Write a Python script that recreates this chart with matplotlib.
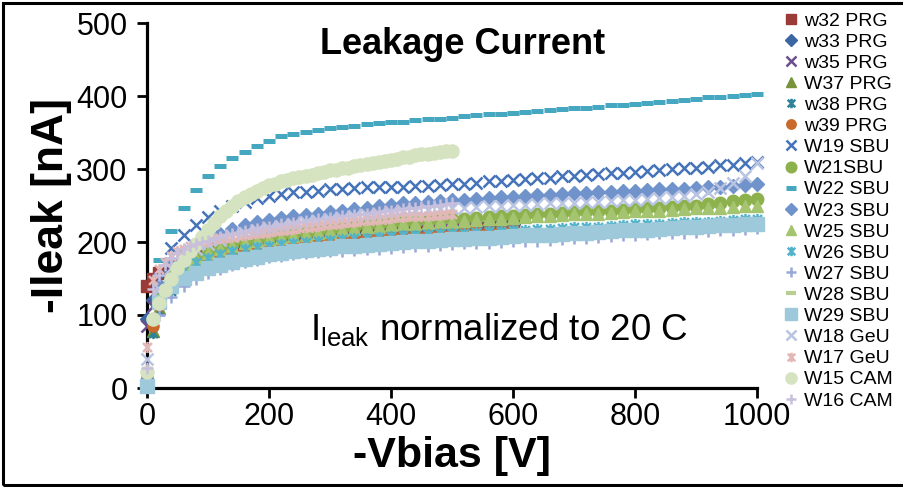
import matplotlib
matplotlib.use("Agg")
import matplotlib.pyplot as plt
from matplotlib.path import Path
from matplotlib.patches import Rectangle

plt.rcParams['font.family'] = ['Liberation Sans', 'DejaVu Sans']
plt.rcParams['mathtext.fontset'] = 'custom'
plt.rcParams['mathtext.rm'] = 'Liberation Sans'

# ---------------- data ----------------
V_prg = [0, 10, 20] + list(range(40, 601, 20))        # PRG sweeps up to 600 V
V_sbu = list(range(0, 1001, 20))                        # 20 V steps up to 1000 V
V_cam = list(range(0, 501, 10))                         # 10 V steps up to 500 V

w32_PRG = [140, 150, 158, 170, 180, 186, 190, 193, 195, 197, 199, 200, 202, 203, 204, 205,
           206, 207, 208, 209, 210, 211, 212, 213, 214, 215, 216, 217, 218, 218, 219, 220]
w33_PRG = [95, 120, 140, 160, 172, 180, 186, 190, 194, 197, 200, 202, 204, 206, 207, 208,
           209, 210, 211, 212, 213, 214, 215, 216, 217, 218, 219, 220, 221, 222, 223, 224]
w35_PRG = [85, 112, 135, 157, 170, 178, 184, 189, 193, 196, 199, 201, 203, 205, 206, 207,
           208, 209, 210, 211, 212, 213, 214, 215, 216, 217, 218, 219, 220, 221, 222, 223]
W37_PRG = [10, 78, 110, 138, 155, 166, 174, 180, 185, 189, 192, 195, 197, 199, 201, 202,
           203, 204, 205, 206, 207, 208, 209, 210, 211, 212, 213, 213, 214, 215, 215, 216]
w38_PRG = [8, 75, 105, 133, 150, 162, 170, 176, 181, 185, 188, 191, 193, 195, 197, 198,
           199, 200, 201, 202, 203, 204, 205, 206, 207, 208, 209, 210, 211, 211, 212, 213]
w39_PRG = [15, 85, 114, 140, 157, 168, 176, 182, 187, 191, 194, 197, 199, 201, 203, 204,
           205, 206, 207, 208, 209, 210, 211, 212, 213, 214, 214, 215, 216, 216, 217, 218]

W19_SBU = [5, 150, 192, 210, 223, 234, 242, 249, 255, 260, 263, 266, 268, 269, 270, 272, 273,
           274, 275, 275, 276, 276, 277, 277, 278, 279, 280, 281, 283, 284, 285, 286, 287, 288,
           290, 291, 292, 293, 294, 295, 296, 297, 299, 300, 301, 302, 303, 305, 306, 308, 310]
W21_SBU = [5, 122, 153, 169, 180, 188, 193, 197, 201, 204, 207, 209, 211, 213, 215, 217, 219,
           221, 223, 224, 226, 227, 228, 229, 230, 231, 232, 233, 234, 235, 236, 237, 238, 239,
           240, 241, 242, 242, 243, 244, 245, 246, 247, 248, 249, 250, 252, 254, 256, 258, 259]
W22_SBU = [10, 175, 215, 246, 271, 290, 304, 315, 323, 331, 338, 345, 348, 351, 354, 356, 357,
           359, 361, 363, 364, 365, 367, 368, 368, 370, 372, 374, 375, 376, 377, 378, 379, 381,
           382, 383, 384, 385, 387, 388, 389, 390, 392, 393, 395, 396, 398, 399, 400, 402, 403]
W23_SBU = [5, 140, 172, 186, 196, 204, 211, 218, 223, 227, 230, 233, 235, 237, 239, 241, 243,
           245, 247, 249, 251, 253, 254, 255, 256, 257, 258, 259, 260, 261, 262, 263, 264, 265,
           266, 267, 267, 268, 269, 270, 270, 271, 272, 273, 273, 274, 275, 276, 277, 278, 279]
W25_SBU = [5, 118, 150, 166, 177, 185, 190, 194, 198, 201, 204, 206, 208, 210, 212, 214, 216,
           218, 220, 221, 223, 224, 225, 226, 227, 228, 229, 230, 231, 232, 233, 234, 235, 236,
           237, 238, 239, 239, 240, 241, 242, 243, 243, 244, 245, 246, 246, 247, 248, 249, 250]
W26_SBU = [5, 115, 148, 163, 172, 178, 183, 187, 190, 193, 195, 197, 199, 200, 202, 203, 204,
           205, 206, 207, 208, 209, 210, 211, 212, 212, 213, 214, 215, 215, 216, 217, 218, 218,
           219, 220, 221, 221, 222, 223, 224, 224, 225, 226, 227, 227, 228, 229, 230, 231, 232]
W27_SBU = [5, 100, 125, 140, 150, 157, 163, 168, 172, 176, 179, 181, 183, 185, 186, 187, 188,
           189, 190, 191, 192, 193, 194, 195, 196, 197, 198, 198, 199, 200, 201, 202, 202, 203,
           204, 205, 206, 207, 208, 209, 210, 211, 212, 212, 213, 214, 215, 216, 217, 218, 219]
W28_SBU = [5, 110, 138, 152, 162, 169, 175, 179, 183, 186, 189, 191, 193, 195, 196, 198, 199,
           200, 201, 202, 203, 204, 205, 206, 207, 208, 209, 210, 210, 211, 212, 213, 214, 214,
           215, 216, 217, 218, 218, 219, 220, 221, 222, 222, 223, 224, 225, 226, 227, 228, 229]
W29_SBU = [3, 118, 140, 151, 158, 164, 169, 173, 177, 180, 183, 185, 187, 189, 191, 192, 194,
           195, 196, 197, 199, 200, 201, 202, 203, 204, 204, 205, 206, 207, 208, 209, 210, 210,
           211, 212, 213, 214, 215, 216, 217, 217, 218, 219, 220, 221, 222, 223, 223, 224, 225]
W18_GeU = [40, 135, 165, 180, 190, 197, 203, 208, 212, 216, 219, 222, 225, 227, 229, 231, 233,
           235, 237, 239, 241, 242, 243, 244, 245, 246, 247, 248, 249, 250, 251, 251, 252, 253,
           253, 254, 255, 255, 256, 257, 258, 259, 260, 261, 263, 266, 269, 274, 281, 291, 308]
W17_GeU = [56, 148, 163, 173, 181, 187, 191, 195, 198, 200, 202, 204, 205, 206, 207, 208, 210,
           211, 212, 213, 214, 215, 216, 217, 218, 219, 220, 221, 222, 223, 224, 225, 226, 227,
           228, 229, 230, 230, 231, 232, 233, 234, 234, 235, 235, 236, 236, 237, 237, 238, 238]
W15_CAM = [22, 95, 116, 134, 150, 164, 176, 187, 197, 207, 216, 226, 235, 243, 250, 256, 261,
           266, 270, 274, 278, 280, 283, 285, 287, 289, 291, 292, 294, 296, 298, 299, 301, 302,
           304, 305, 307, 308, 310, 311, 313, 314, 316, 317, 319, 320, 321, 322, 323, 324, 325]
W16_CAM = [27, 135, 155, 168, 178, 185, 190, 194, 197, 200, 202, 204, 207, 209, 211, 213, 215,
           217, 218, 220, 221, 222, 224, 225, 226, 228, 229, 230, 231, 232, 233, 234, 235, 236,
           237, 238, 239, 240, 241, 242, 243, 244, 245, 246, 247, 248, 249, 250, 251, 252, 253]

y_ticks = [0, 100, 200, 300, 400, 500]
x_ticks = [0, 200, 400, 600, 800, 1000]

# asterisk marker (x plus vertical bar)
ast = Path([(-1, -1), (1, 1), (-1, 1), (1, -1), (0, -1.25), (0, 1.25)],
           [Path.MOVETO, Path.LINETO, Path.MOVETO, Path.LINETO, Path.MOVETO, Path.LINETO])

# label, x, y, marker, color, size, edge width, open?
series = [
    ("w32 PRG", V_prg, w32_PRG, 's', '#9b3b38', 8, 1.0, False),
    ("w33 PRG", V_prg, w33_PRG, 'D', '#3c65a3', 7, 1.0, False),
    ("w35 PRG", V_prg, w35_PRG, 'x', '#6a4f8c', 8, 1.8, True),
    ("W37 PRG", V_prg, W37_PRG, '^', '#77933c', 9, 1.0, False),
    ("w38 PRG", V_prg, w38_PRG, ast, '#2f8298', 8, 1.8, True),
    ("w39 PRG", V_prg, w39_PRG, 'o', '#c96a2c', 8, 1.0, False),
    ("W19 SBU", V_sbu, W19_SBU, 'x', '#4573b9', 8.5, 1.8, True),
    ("W21SBU", V_sbu, W21_SBU, 'o', '#8db14c', 9, 1.0, False),
    ("W22 SBU", V_sbu, W22_SBU, '_', '#46a7c1', 8.5, 3.6, True),
    ("W23 SBU", V_sbu, W23_SBU, 'D', '#7193cb', 7.5, 1.0, False),
    ("W25 SBU", V_sbu, W25_SBU, '^', '#a5c46f', 9, 1.0, False),
    ("W26 SBU", V_sbu, W26_SBU, ast, '#52b3cb', 8, 1.8, True),
    ("W27 SBU", V_sbu, W27_SBU, '+', '#98a8d8', 9, 1.8, True),
    ("W28 SBU", V_sbu, W28_SBU, '_', '#b8cf8f', 8, 3.0, True),
    ("W29 SBU", V_sbu, W29_SBU, 's', '#9dc9da', 9.5, 1.0, False),
    ("W18 GeU", V_sbu, W18_GeU, 'x', '#b8c4e2', 8.5, 1.8, True),
    ("W17 GeU", V_cam, W17_GeU, ast, '#e2b8b7', 8, 1.8, True),
    ("W15 CAM", V_cam, W15_CAM, 'o', '#d6e3c0', 9.5, 1.0, False),
    ("W16 CAM", V_cam, W16_CAM, '+', '#c8bfdc', 9, 1.8, True),
]

fig = plt.figure(figsize=(9.04, 4.87), dpi=100)
ax = fig.add_axes([147 / 904, 1 - 388 / 487, 610 / 904, 365 / 487])

for lab, xs, ys, mk, col, ms, mew, opn in series:
    face = 'none' if opn else col
    ax.plot(xs, ys, linestyle='none', marker=mk, markersize=ms, markeredgewidth=mew,
            color=col, markerfacecolor=face, markeredgecolor=col,
            label=lab, clip_on=False, zorder=3)

ax.set_xlim(0, 1000)
ax.set_ylim(0, 500)
ax.set_xticks(x_ticks)
ax.set_yticks(y_ticks)
for s in ['top', 'right']:
    ax.spines[s].set_visible(False)
for s in ['left', 'bottom']:
    ax.spines[s].set_linewidth(2.3)
ax.tick_params(axis='both', direction='out', length=7, width=2.0, labelsize=22, color='black')
ax.tick_params(axis='y', pad=7)
ax.tick_params(axis='x', pad=3)

ax.set_xlabel("-Vbias [V]", fontsize=31, fontweight='bold', labelpad=3)
ax.set_ylabel("-Ileak [nA]", fontsize=32, fontweight='bold', labelpad=3)

ax.text(0.518, 0.94, "Leakage Current", transform=ax.transAxes, ha='center', va='center',
        fontsize=26, fontweight='bold')
ax.text(0.577, 0.159, r"I$_{\mathregular{leak}}$ normalized to 20 C", transform=ax.transAxes,
        ha='center', va='center', fontsize=26.5)

leg = ax.legend(loc='upper left', bbox_to_anchor=(783 / 904, 1 - 12 / 487),
                bbox_transform=fig.transFigure, frameon=False, borderaxespad=0, borderpad=0,
                handlelength=0.8, handletextpad=0.3, labelspacing=0.18, markerscale=0.85,
                numpoints=1, fontsize=14)

fig.add_artist(Rectangle((0.003, 0.004), 1.2, 0.99, transform=fig.transFigure,
                         fill=False, edgecolor='black', linewidth=2.2))

fig.savefig("out.png", dpi=100)
